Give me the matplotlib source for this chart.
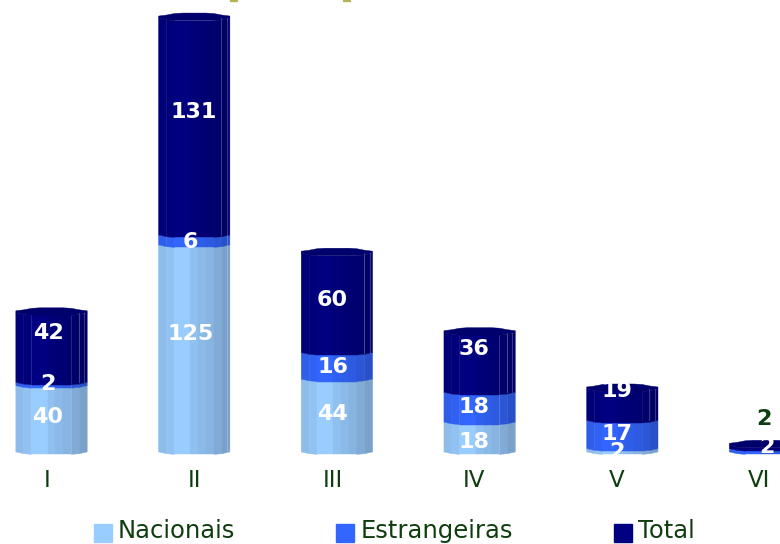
import matplotlib
matplotlib.use("Agg")
import matplotlib.pyplot as plt
from matplotlib.colors import to_rgb
from matplotlib.patches import Patch, Rectangle
import numpy as np

categories = ["I", "II", "III", "IV", "V", "VI"]
nacionais = [40, 125, 44, 18, 2, 0]
estrangeiras = [2, 6, 16, 18, 17, 2]
total = [42, 131, 60, 36, 19, 2]

# label heights (stack units)
nac_label_y = [21, 71, 23, 6, 0, None]
est_label_y = [41, 127, 51, 27, 11, 3]
tot_label_y = [72, 205, 92, 62, 37, 20]
label_dx = [-0.025, -0.025, -0.03, -0.04, -0.04, 0.01]
tick_dx = [-0.03, 0.0, -0.03, -0.04, -0.04, -0.04]

NAC_COLOR = "#99ccff"
EST_COLOR = "#3366ff"
TOT_COLOR = "#000080"
CAP_COLOR = "#00006c"
TEXT_COLOR = "#0f3d0f"

BAR_WIDTH = 0.5
PX_PER_UNIT = 1.656
# brightness of each facet of the fake cylinder, left to right
shade = [0.92, 0.95, 1.0, 1.0, 0.94, 0.91, 0.88, 0.84, 0.79]
dip = np.array([0.0, 0.7, 1, 1, 1, 1, 1, 1, 0.7, 0.0]) * 2.5 / PX_PER_UNIT


def draw_segment(ax, x, y0, y1, color):
    edges = np.linspace(x - BAR_WIDTH / 2, x + BAR_WIDTH / 2, len(shade) + 1)
    rgb = np.array(to_rgb(color))
    for i, s in enumerate(shade):
        c = tuple(rgb * s)
        ax.fill([edges[i], edges[i + 1], edges[i + 1], edges[i]],
                [y0 - dip[i], y0 - dip[i + 1], y1 - dip[i + 1], y1 - dip[i]],
                color=c, lw=0.3)


def draw_cap(ax, x, top):
    edges = np.linspace(x - BAR_WIDTH / 2, x + BAR_WIDTH / 2, len(shade) + 1)
    rise = np.array([2, 3, 4.5, 5, 5, 5, 5, 4.5, 3, 2]) / PX_PER_UNIT
    ax.fill(list(edges) + list(edges[::-1]),
            list(top + rise) + list((top - dip)[::-1]),
            color=CAP_COLOR, lw=0.3)


fig = plt.figure(figsize=(7.8, 5.44), dpi=100)
ax = fig.add_axes([0, 0, 1, 1])
ax.set_xlim(-0.361, 5.105)
ax.set_ylim(-55.6, 272.9)
ax.axis("off")

for i, name in enumerate(categories):
    n, e, t = nacionais[i], estrangeiras[i], total[i]
    if n > 0:
        draw_segment(ax, i, 0, n, NAC_COLOR)
    draw_segment(ax, i, n, n + e, EST_COLOR)
    draw_segment(ax, i, n + e, n + e + t, TOT_COLOR)
    draw_cap(ax, i, np.full(10, n + e + t))

    # facet lines near the right side of the cylinder
    for rel in (0.38, 0.46):
        low = 0 if (i == 1 and rel == 0.46) else n + e
        ax.plot([i + rel * BAR_WIDTH] * 2, [low, n + e + t],
                color="white", alpha=0.22, lw=0.8)

    lx = i + label_dx[i]
    style = dict(color="white", fontsize=16, fontweight="bold", ha="center", va="center")
    if nac_label_y[i] is not None:
        ax.text(lx, nac_label_y[i], str(n), **style)
    ax.text(lx, est_label_y[i], str(e), **style)
    if i < 5:
        ax.text(lx + (0.02 if i == 1 else 0), tot_label_y[i], str(t), **style)
    else:
        ax.text(lx - 0.02, tot_label_y[i], str(t), color=TEXT_COLOR, fontsize=16,
                fontweight="bold", ha="center", va="center")
    ax.text(i + tick_dx[i], -17, name, color=TEXT_COLOR, fontsize=16.5, ha="center", va="center")

# bits of the cut-off title at the very top
for px in (230, 343):
    fig.patches.append(Rectangle((px / 780, 543 / 544), 7 / 780, 1 / 544,
                                 transform=fig.transFigure, color="#b5b35a"))

handles = [Patch(color=NAC_COLOR, label="Nacionais"),
           Patch(color=EST_COLOR, label="Estrangeiras"),
           Patch(color=TOT_COLOR, label="Total")]
leg = ax.legend(handles=handles, ncol=3, frameon=False, fontsize=17.5,
                loc="lower left", bbox_to_anchor=(94 / 780, 1 / 544), borderaxespad=0,
                borderpad=0, handlelength=0.74, handleheight=0.74, handletextpad=0.25,
                columnspacing=4.15, labelcolor=TEXT_COLOR)
# swatches sit a little below the text baseline
for p in leg.get_patches():
    p.set_y(p.get_y() - 2.5)

fig.savefig("out.png", dpi=100)
